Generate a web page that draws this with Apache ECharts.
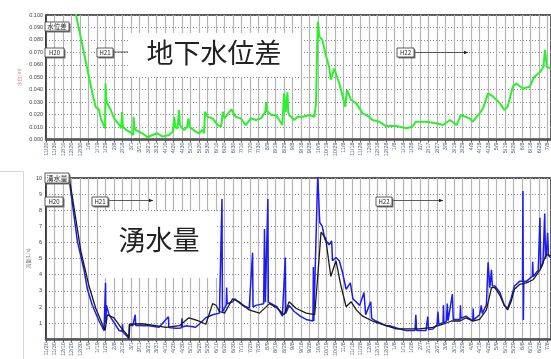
<!DOCTYPE html>
<html>
<head>
<meta charset="utf-8">
<script src="https://cdn.jsdelivr.net/npm/echarts@6/dist/echarts.min.js"></script>
<style>
  html, body { margin: 0; padding: 0; background: #fff; }
  #chart { width: 551px; height: 359px; }
</style>
</head>
<body>
<div id="chart"></div>
<script>
// date ticks, one every ~10 days (x = tick index)
const tickLabels = ['11/20','11/30','12/10','12/20','12/30','1/9','1/19','1/29','2/8','2/18',
  '3/1','3/11','3/21','3/31','4/10','4/20','4/30','5/10','5/20','5/30',
  '6/10','6/20','6/30','7/10','7/20','7/30','8/9','8/19','8/29','9/8',
  '9/18','9/28','10/9','10/19','10/29','11/8','11/18','11/28','12/8','12/18',
  '12/28','1/8','1/18','1/28','2/7','2/17','2/27','3/9','3/19','3/29',
  '4/8','4/18','4/28','5/9','5/19','5/29','6/8','6/18','6/28','7/8'];

// groundwater level difference (m)
const levelData = [[3.4,0.104],[3.53,0.100],[4.3,0.075],[5.06,0.050],[5.5,0.036],[5.85,0.026],[6.24,0.024],[6.44,0.017],[6.95,0.009],[7.0,0.045],[7.1,0.032],[7.22,0.029],[7.6,0.024],[8.0,0.017],[8.6,0.012],[8.85,0.009],[8.95,0.022],[9.05,0.010],[9.39,0.008],[9.98,0.0055],[10.25,0.0036],[10.3,0.018],[10.4,0.010],[10.56,0.0076],[11.34,0.005],[11.93,0.0018],[12.52,0.0036],[13.1,0.005],[13.7,0.0023],[14.5,0.0036],[14.9,0.0063],[15.1,0.018],[15.2,0.010],[15.46,0.009],[15.65,0.0237],[15.75,0.012],[15.86,0.0103],[16.25,0.0076],[16.6,0.0103],[16.76,0.017],[16.9,0.010],[17.04,0.009],[17.6,0.0063],[18.0,0.005],[18.4,0.0076],[18.6,0.005],[18.7,0.0223],[19.0,0.0183],[19.6,0.017],[20.2,0.0116],[20.6,0.0103],[20.8,0.0223],[21.0,0.017],[21.6,0.0223],[21.8,0.0243],[22.3,0.0183],[22.9,0.017],[23.5,0.0116],[24.1,0.017],[24.7,0.0157],[25.3,0.017],[25.8,0.0223],[25.9,0.030],[26.0,0.023],[26.5,0.0197],[27.05,0.0197],[27.8,0.0116],[28.0,0.037],[28.2,0.022],[28.4,0.038],[28.5,0.022],[28.6,0.0197],[29.2,0.0157],[29.6,0.0183],[30.2,0.0183],[31.0,0.0197],[31.57,0.0183],[31.76,0.029],[31.96,0.0946],[32.16,0.0826],[32.5,0.080],[32.9,0.068],[33.3,0.0585],[33.5,0.048],[33.9,0.057],[34.5,0.045],[34.9,0.0344],[35.2,0.0263],[35.4,0.0398],[35.9,0.0317],[36.5,0.029],[37.25,0.021],[38.0,0.0183],[38.4,0.0157],[39.2,0.0143],[40.0,0.0108],[41.2,0.0108],[42.4,0.009],[43.1,0.0103],[43.5,0.0143],[44.7,0.0143],[45.9,0.013],[46.7,0.0116],[47.5,0.0157],[48.3,0.0116],[48.8,0.0197],[49.8,0.017],[50.2,0.0143],[51.0,0.021],[51.4,0.025],[52.0,0.037],[52.6,0.0344],[53.4,0.029],[53.9,0.0237],[54.3,0.0263],[54.9,0.0424],[55.3,0.045],[56.1,0.041],[56.9,0.0424],[57.4,0.050],[58.1,0.054],[58.5,0.0585],[58.7,0.072],[58.9,0.0585],[59.36,0.057]];

// spring water flow (L/s), measured
const flowData = [[2.6,10.3],[2.7,10],[3.7,6.05],[4.48,4.28],[4.87,3.1],[5.45,2.11],[6.24,1.13],[6.83,0.54],[6.95,0.5],[7.0,3.5],[7.05,1.0],[7.1,2.11],[7.42,1.52],[8.0,1.03],[8.6,0.54],[8.95,0.5],[9.0,0.93],[9.05,0.45],[9.58,0.15],[9.75,0.02],[9.85,0.9],[10.2,0.84],[10.5,1.52],[10.55,0.85],[12.1,0.84],[13.3,0.74],[14.4,1.4],[14.45,0.72],[15.3,0.68],[15.9,0.7],[16.0,1.3],[16.05,0.75],[16.5,0.84],[17.6,0.74],[18.0,0.93],[18.8,1.33],[19.6,1.52],[20.4,1.62],[20.7,8.7],[20.75,1.7],[20.8,1.72],[21.2,2.11],[21.25,3.2],[21.3,2.2],[21.95,2.32],[22.2,2.5],[23.1,2.11],[23.9,1.92],[24.3,5.36],[24.35,2.0],[24.7,2.1],[25.6,2.2],[25.7,6.84],[25.8,2.3],[26.1,8.7],[26.15,2.3],[26.5,2.21],[27.2,2.0],[27.8,1.43],[28.15,5.07],[28.2,1.6],[28.6,2.1],[29.2,1.72],[29.9,1.43],[30.6,1.23],[31.4,1.13],[31.45,4.48],[31.5,1.13],[31.7,1.13],[31.96,10.2],[32.2,7.24],[32.5,7.0],[32.8,6.2],[33.3,5.86],[33.6,6.1],[33.7,4.87],[34.1,5.07],[34.5,4.87],[34.9,4.09],[35.3,3.1],[35.8,3.5],[36.1,2.51],[36.9,2.1],[37.4,2.9],[37.6,1.52],[38.2,2.32],[38.3,1.3],[38.8,1.13],[40.0,0.84],[40.4,0.84],[41.6,0.64],[42.4,0.54],[43.4,0.54],[43.5,1.52],[43.6,0.54],[44.7,0.54],[44.9,1.4],[45.0,0.6],[45.5,0.64],[46.0,0.9],[46.1,1.72],[46.2,0.93],[46.7,1.03],[46.75,2.1],[46.8,1.0],[47.1,1.13],[47.2,2.21],[47.3,1.15],[47.8,2.8],[47.9,1.23],[48.7,1.23],[48.75,2.1],[48.8,1.3],[49.4,1.43],[50.2,1.13],[50.25,1.9],[50.3,1.2],[51.0,1.52],[51.2,2.1],[51.3,1.6],[51.8,2.11],[52.0,4.77],[52.2,3.2],[52.4,4.3],[52.5,3.3],[52.8,3.3],[53.4,2.9],[53.9,2.11],[54.3,1.92],[54.7,2.51],[55.1,3.3],[55.7,3.59],[56.05,3.6],[56.1,9.2],[56.15,1.2],[56.2,3.6],[56.5,3.59],[57.2,3.9],[57.25,4.8],[57.3,3.89],[57.9,4.28],[58.1,7.53],[58.2,4.4],[58.45,4.68],[58.66,7.8],[58.75,5.0],[58.85,5.27],[59.0,6.6],[59.1,5.2],[59.36,5.07]];

// spring water flow (L/s), smoothed
const flowAvg = [[2.6,10.3],[2.75,10],[4.1,5.46],[5.06,3.3],[5.85,1.92],[6.63,0.93],[6.95,0.54],[7.22,1.52],[7.42,1.62],[8.0,1.33],[8.8,0.74],[9.58,0.25],[9.75,0.1],[9.8,0.93],[11.3,0.96],[12.9,0.84],[14.1,0.74],[15.7,0.84],[16.8,1.33],[17.4,1.23],[18.0,1.13],[18.8,0.93],[19.6,2.21],[20.0,2.11],[20.4,1.72],[21.0,1.62],[21.95,2.51],[22.7,2.32],[23.9,1.82],[25.1,1.62],[26.3,2.21],[27.2,1.92],[28.0,1.52],[28.6,2.32],[29.4,1.92],[30.6,1.62],[31.6,1.52],[31.96,3.89],[32.35,6.64],[32.9,6.25],[33.5,3.89],[34.1,4.87],[34.7,3.3],[35.3,2.02],[35.9,2.32],[36.5,1.82],[37.25,1.43],[38.4,1.13],[40.0,0.84],[41.2,0.64],[42.4,0.64],[43.9,0.64],[45.5,0.74],[46.7,0.93],[47.7,1.13],[48.7,1.13],[49.4,1.33],[50.2,1.13],[51.0,1.23],[51.8,1.82],[52.4,3.2],[52.8,3.2],[53.4,2.71],[53.9,2.11],[54.3,1.82],[54.7,2.32],[55.1,3.1],[55.7,3.4],[56.5,3.5],[57.3,3.69],[58.1,4.28],[58.85,5.27],[59.36,5.17]];

const chart = echarts.init(document.getElementById('chart'));
const font = 'Liberation Sans, DejaVu Sans, sans-serif';
const jp = 'Noto Sans CJK JP, sans-serif';

function xAxisFor(gridIndex) {
  return {
    type: 'value', gridIndex, min: 0, max: 59.4, interval: 1,
    axisLine: { lineStyle: { color: '#555', width: 2.5 } },
    axisTick: { length: 3, lineStyle: { color: '#555' } },
    axisLabel: {
      rotate: 90, fontSize: 5.5, color: '#55607a', margin: 3, fontFamily: font,
      showMaxLabel: false,
      formatter: (v) => tickLabels[Math.round(v)] || ''
    },
    splitLine: { lineStyle: { color: '#b4b4b4', width: 1.2 } }
  };
}

// small labelled box with shadow
function box(x, y, w, h, text, fs) {
  return {
    type: 'group', z: 110,
    children: [
      { type: 'rect', z: 110, shape: { x: x + 1.5, y: y + 1.5, width: w, height: h }, style: { fill: '#777' } },
      { type: 'rect', z: 111, shape: { x, y, width: w, height: h }, style: { fill: '#fff', stroke: '#333', lineWidth: 0.8 } },
      { type: 'text', z: 112, x: x + w / 2, y: y + h / 2, style: { text, fontSize: fs, fill: '#222', align: 'center', verticalAlign: 'middle', fontFamily: jp } }
    ]
  };
}

function arrow(x1, x2, y, head) {
  const items = [{ type: 'line', z: 105, shape: { x1, y1: y, x2, y2: y }, style: { stroke: '#333', lineWidth: 0.8 } }];
  if (head) {
    items.push({ type: 'polygon', z: 105, shape: { points: [[x2, y], [x2 - 4, y - 1.8], [x2 - 4, y + 1.8]] }, style: { fill: '#222' } });
  }
  return items;
}

const option = {
  animation: false,
  backgroundColor: '#fff',
  grid: [
    { left: 46, top: 15, width: 505, height: 124.5, show: true, borderColor: '#222', borderWidth: 1.5 },
    { left: 46, top: 178, width: 505, height: 169.5, show: true, borderColor: '#222', borderWidth: 1.5 }
  ],
  xAxis: [xAxisFor(0), xAxisFor(1)],
  yAxis: [
    {
      type: 'value', gridIndex: 0, min: 0, max: 0.1, interval: 0.01,
      name: '水位(m)', nameLocation: 'middle', nameGap: 24, nameMoveOverlap: false,
      nameTextStyle: { fontSize: 5, color: '#c99a9a', fontFamily: jp },
      axisLine: { show: true, lineStyle: { color: '#333', width: 1.5 } },
      axisTick: { show: false },
      axisLabel: { fontSize: 5.5, color: '#444', margin: 3, fontFamily: font, formatter: (v) => v.toFixed(3) },
      splitLine: { lineStyle: { color: '#888', type: [1, 2], width: 1 } }
    },
    {
      type: 'value', gridIndex: 1, min: 0, max: 10, interval: 1,
      name: '流量(L/s)', nameLocation: 'middle', nameGap: 15, nameMoveOverlap: false,
      nameTextStyle: { fontSize: 5, color: '#777', fontFamily: jp },
      axisLine: { show: true, lineStyle: { color: '#333', width: 1.5 } },
      axisTick: { show: false },
      axisLabel: { fontSize: 5.5, color: '#444', margin: 4, fontFamily: font, formatter: (v) => (v === 0 ? '' : String(v)) },
      splitLine: { lineStyle: { color: '#888', type: [1, 2], width: 1 } }
    }
  ],
  series: [
    {
      type: 'line', xAxisIndex: 0, yAxisIndex: 0, data: levelData, showSymbol: false, clip: true,
      lineStyle: { color: '#2cf02c', width: 2 }
    },
    {
      type: 'line', xAxisIndex: 1, yAxisIndex: 1, data: flowData, showSymbol: false, clip: true,
      lineStyle: { color: '#1c1cf0', width: 1.5 }
    },
    {
      type: 'line', xAxisIndex: 1, yAxisIndex: 1, data: flowAvg, showSymbol: false, clip: true,
      lineStyle: { color: '#1a1a1a', width: 1.3 }
    }
  ],
  graphic: [
    // white title panels
    { type: 'rect', z: 100, shape: { x: 128, y: 33, width: 172, height: 44 }, style: { fill: '#fff' } },
    { type: 'text', z: 101, x: 214, y: 53, style: { text: '地下水位差', fontSize: 27, fill: '#222', align: 'center', verticalAlign: 'middle', fontFamily: jp } },
    { type: 'rect', z: 100, shape: { x: 102, y: 211, width: 115, height: 67 }, style: { fill: '#fff' } },
    { type: 'text', z: 101, x: 159, y: 240, style: { text: '湧水量', fontSize: 27, fill: '#222', align: 'center', verticalAlign: 'middle', fontFamily: jp } },
    // top chart markers
    box(45, 22, 24, 9, '水位差', 6.5),
    box(45, 48, 19, 9, 'H20', 6),
    ...arrow(113, 128, 52, false),
    box(97, 48, 16, 9, 'H21', 6),
    ...arrow(414, 468, 52.5, true),
    box(397, 48, 17, 9, 'H22', 6),
    // bottom chart markers
    box(45, 173, 24, 10, '湧水量', 7),
    box(45, 197, 18, 9, 'H20', 6),
    ...arrow(108, 153, 200.5, true),
    box(92, 197, 16, 9, 'H21', 6),
    ...arrow(391, 443, 200.5, true),
    box(376, 197, 16, 9, 'H22', 6),
    // faint frame at lower left
    { type: 'polyline', z: 1, shape: { points: [[0, 171.5], [23.5, 171.5], [23.5, 359]] }, style: { stroke: '#d6d6d6', fill: null, lineWidth: 1 } }
  ]
};

chart.setOption(option);
</script>
</body>
</html>
